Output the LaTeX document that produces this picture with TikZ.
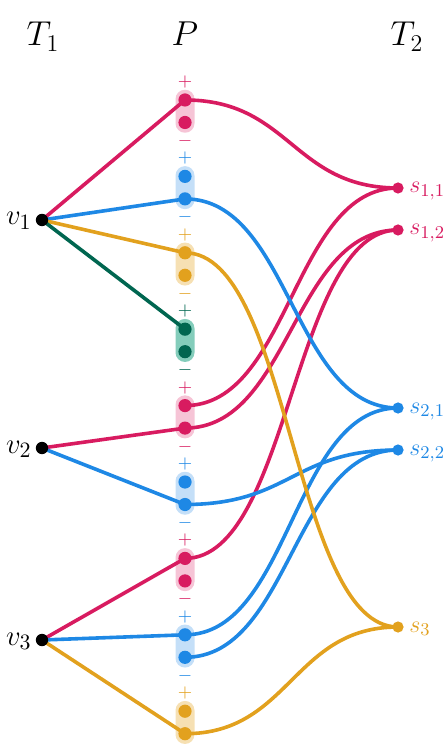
\documentclass[tikz,border=0pt]{standalone}
\definecolor{cm}{HTML}{D81B60}
\definecolor{cmL}{HTML}{F6C4D6}
\definecolor{cb}{HTML}{1E88E5}
\definecolor{cbL}{HTML}{C4DFF8}
\definecolor{co}{HTML}{E2A11E}
\definecolor{coL}{HTML}{F6E0B3}
\definecolor{cg}{HTML}{006650}
\definecolor{cgL}{HTML}{84CDBB}
\begin{document}
\begin{tikzpicture}[x=0.5pt,y=-0.5pt,
  pdot/.style={circle,fill=#1,inner sep=0pt,minimum size=6.6pt},
  pill/.style={fill=#1,rounded corners=4.7pt,minimum width=9.5pt,minimum height=21.5pt,inner sep=0pt},
  sign/.style={text=#1,font=\fontsize{9.5}{10}\selectfont,inner sep=0pt},
  vdot/.style={circle,fill=black,inner sep=0pt,minimum size=6.2pt},
  sdot/.style={circle,fill=#1,inner sep=0pt,minimum size=5.6pt},
  edge/.style={draw=#1,line width=1.8pt},
  head/.style={font=\fontsize{16.5}{19}\selectfont,anchor=base,inner sep=0pt},
  vlab/.style={font=\fontsize{15}{18}\selectfont,anchor=base east,inner sep=0pt},
  slab/.style={text=#1,font=\fontsize{13.2}{15}\selectfont,anchor=base west,inner sep=0pt}]
\useasboundingbox (0,0) rectangle (445,747);
% headers
\node[head] (h1) at (43,46) {$T_1$};
\node[head] (h2) at (185,46) {$P$};
\node[head] (h3) at (407,46) {$T_2$};
% pills
\foreach \i/\c/\y in {1/cm/100,2/cb/176.4,3/co/252.8,4/cg/329.2,5/cm/405.6,6/cb/482,7/cm/558.4,8/cb/634.8,9/co/711.2}{
  \node[pill=\c L] (pill\i) at (185,\y+11.25) {};
  \coordinate (p\i-t) at (185,\y);
  \coordinate (p\i-b) at (185,\y+22.5);
}
% left nodes
\coordinate (v1) at (42,220);
\coordinate (v2) at (42,448);
\coordinate (v3) at (42,640);
% right nodes
\coordinate (s11) at (398,188);
\coordinate (s12) at (398,230);
\coordinate (s21) at (398,408);
\coordinate (s22) at (398,450);
\coordinate (s3) at (398,627);
% left edges
\draw[edge=cm] (v1) -- (p1-t);
\draw[edge=cb] (v1) -- (p2-b);
\draw[edge=co] (v1) -- (p3-t);
\draw[edge=cg] (v1) -- (p4-t);
\draw[edge=cm] (v2) -- (p5-b);
\draw[edge=cb] (v2) -- (p6-b);
\draw[edge=cm] (v3) -- (p7-t);
\draw[edge=cb] (v3) -- (p8-t);
\draw[edge=co] (v3) -- (p9-b);
% right edges
\draw[edge=cm] (p1-t) .. controls +(105,0) and +(-105,0) .. (s11);
\draw[edge=cm] (p5-t) .. controls +(105,0) and +(-105,0) .. (s11);
\draw[edge=cm] (p5-b) .. controls +(105,0) and +(-105,0) .. (s12);
\draw[edge=cm] (p7-t) .. controls +(105,0) and +(-105,0) .. (s12);
\draw[edge=cb] (p2-b) .. controls +(105,0) and +(-105,0) .. (s21);
\draw[edge=cb] (p8-t) .. controls +(105,0) and +(-105,0) .. (s21);
\draw[edge=cb] (p6-b) .. controls +(105,0) and +(-105,0) .. (s22);
\draw[edge=cb] (p8-b) .. controls +(105,0) and +(-105,0) .. (s22);
\draw[edge=co] (p3-t) .. controls +(105,0) and +(-105,0) .. (s3);
\draw[edge=co] (p9-b) .. controls +(105,0) and +(-105,0) .. (s3);
% dots and signs
\foreach \i/\c in {1/cm,2/cb,3/co,4/cg,5/cm,6/cb,7/cm,8/cb,9/co}{
  \node[pdot=\c] (d\i-t) at (p\i-t) {};
  \node[pdot=\c] (d\i-b) at (p\i-b) {};
  \node[sign=\c] (plus\i) at ([yshift=9pt]p\i-t) {$+$};
}
\foreach \i/\c in {1/cm,2/cb,3/co,4/cg,5/cm,6/cb,7/cm,8/cb}{
  \node[sign=\c] (minus\i) at ([yshift=-9.2pt]p\i-b) {$-$};
}
\node[vdot] (nv1) at (v1) {};
\node[vdot] (nv2) at (v2) {};
\node[vdot] (nv3) at (v3) {};
\node[vlab] (lv1) at (32,225) {$v_1$};
\node[vlab] (lv2) at (32,453) {$v_2$};
\node[vlab] (lv3) at (32,645) {$v_3$};
\node[sdot=cm] (ns11) at (s11) {};
\node[sdot=cm] (ns12) at (s12) {};
\node[sdot=cb] (ns21) at (s21) {};
\node[sdot=cb] (ns22) at (s22) {};
\node[sdot=co] (ns3) at (s3) {};
\node[slab=cm] (ls11) at (409,193) {$s_{1,1}$};
\node[slab=cm] (ls12) at (409,235) {$s_{1,2}$};
\node[slab=cb] (ls21) at (409,413) {$s_{2,1}$};
\node[slab=cb] (ls22) at (409,455) {$s_{2,2}$};
\node[slab=co] (ls3) at (409,632) {$s_3$};
\end{tikzpicture}
\end{document}
